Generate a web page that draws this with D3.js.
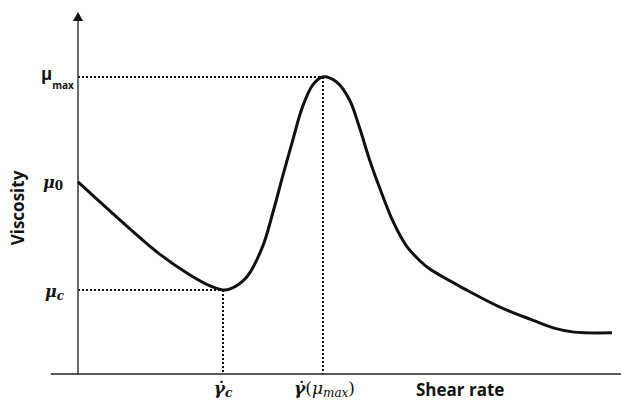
<!DOCTYPE html>
<html>
<head>
<meta charset="utf-8">
<script src="https://cdn.jsdelivr.net/npm/d3@7"></script>
<style>
  body { margin: 0; background: #fff; }
  text { fill: #111; }
</style>
</head>
<body>
<div id="chart"></div>
<script>
  // shear rate (arbitrary units) and viscosity
  var shearRate = [0, 4.1, 9.6, 15.1, 20.7, 24.4, 26.8, 28.0, 31.2, 34.1, 36.0, 37.8, 39.7, 41.5, 43.4, 45.2,
                   47.8, 50.2, 52.0, 53.9, 55.7, 58.1, 60.7, 62.9, 64.9, 71.8, 77.9, 83.9, 88.0, 91.7, 98.7];
  var viscosity = [53.2, 47.6, 40.2, 33.2, 27.4, 24.4, 23.3, 23.5, 26.9, 35.2, 44.6, 54.6, 64.8, 74.0, 80.1, 82.3,
                   80.9, 75.9, 68.4, 59.3, 51.8, 42.7, 35.5, 31.8, 29.2, 23.3, 18.6, 15.0, 12.7, 11.6, 11.4];

  var mu0 = 53.2, muC = 23.3, muMax = 82.3;
  var gammaC = 26.8, gammaMax = 45.2;

  var width = 621, height = 400;
  var margin = { top: 13, right: 1, bottom: 26, left: 78 };

  var svg = d3.select('#chart')
    .append('svg')
    .attr('width', width)
    .attr('height', height);

  var x = d3.scaleLinear()
    .domain([0, 100])
    .range([margin.left, width - margin.right - 1]);

  var y = d3.scaleLinear()
    .domain([0, 100])
    .range([height - margin.bottom, margin.top]);

  var data = shearRate.map(function(d, i) { return { x: d, y: viscosity[i] }; });

  // dotted guide lines
  var guides = [
    [x(0), y(muMax), x(gammaMax), y(muMax)],
    [x(gammaMax), y(muMax), x(gammaMax), y(0)],
    [x(0), y(muC), x(gammaC), y(muC)],
    [x(gammaC), y(muC), x(gammaC), y(0)]
  ];
  svg.selectAll('.guide')
    .data(guides)
    .enter().append('line')
    .attr('class', 'guide')
    .attr('x1', function(d) { return Math.round(d[0]); })
    .attr('y1', function(d) { return Math.round(d[1]); })
    .attr('x2', function(d) { return Math.round(d[2]); })
    .attr('y2', function(d) { return Math.round(d[3]); })
    .attr('stroke', '#111')
    .attr('stroke-width', 2)
    .attr('stroke-dasharray', '2,2');

  // axes
  svg.append('line')
    .attr('x1', x(0)).attr('x2', x(0))
    .attr('y1', y(0)).attr('y2', y(100) + 8)
    .attr('stroke', '#444').attr('stroke-width', 1.6);
  svg.append('path')
    .attr('d', d3.symbol().type(d3.symbolTriangle).size(45))
    .attr('transform', 'translate(' + x(0) + ',' + (y(100) + 5) + ')')
    .attr('fill', '#111');

  svg.append('line')
    .attr('x1', x(-5)).attr('x2', width)
    .attr('y1', y(0)).attr('y2', y(0))
    .attr('stroke', '#222').attr('stroke-width', 1.6);

  // curve
  var line = d3.line()
    .x(function(d) { return x(d.x); })
    .y(function(d) { return y(d.y); })
    .curve(d3.curveCatmullRom.alpha(0.5));

  svg.append('path')
    .datum(data)
    .attr('d', line)
    .attr('fill', 'none')
    .attr('stroke', '#111')
    .attr('stroke-width', 3);

  // y labels
  var muMaxLabel = svg.append('text')
    .attr('x', x(0) - 37)
    .attr('y', y(muMax) + 3)
    .style('font-family', 'Open Sans, sans-serif')
    .style('font-weight', 'bold');
  muMaxLabel.append('tspan').style('font-size', '17px').text('μ');
  muMaxLabel.append('tspan').attr('dy', 9).style('font-size', '10px').text('max');

  var serif = 'DejaVu Serif, Liberation Serif, serif';

  var mu0Label = svg.append('text')
    .attr('x', x(0) - 15)
    .attr('y', y(mu0) + 6)
    .attr('text-anchor', 'end')
    .style('font-family', serif)
    .style('font-style', 'italic')
    .style('font-weight', 'bold')
    .style('font-size', '16px');
  mu0Label.append('tspan').text('μ');
  mu0Label.append('tspan').attr('dy', 2).style('font-size', '12px').style('font-style', 'normal').text('0');

  var muCLabel = svg.append('text')
    .attr('x', x(0) - 14)
    .attr('y', y(muC) + 7)
    .attr('text-anchor', 'end')
    .style('font-family', serif)
    .style('font-style', 'italic')
    .style('font-weight', 'bold')
    .style('font-size', '16px');
  muCLabel.append('tspan').text('μ');
  muCLabel.append('tspan').attr('dy', 3).style('font-size', '12px').text('c');

  // x labels
  var gcLabel = svg.append('text')
    .attr('x', x(gammaC))
    .attr('y', y(0) + 20)
    .attr('text-anchor', 'middle')
    .style('font-family', serif)
    .style('font-style', 'italic')
    .style('font-weight', 'bold')
    .style('font-size', '17px');
  gcLabel.append('tspan').text('γ\u0307');
  gcLabel.append('tspan').attr('dy', 3).style('font-size', '12px').text('c');

  var gmLabel = svg.append('text')
    .attr('x', x(gammaMax) + 2)
    .attr('y', y(0) + 20)
    .attr('text-anchor', 'middle')
    .style('font-family', serif)
    .style('font-style', 'italic')
    .style('font-size', '17px');
  gmLabel.append('tspan').style('font-weight', 'bold').text('γ\u0307');
  gmLabel.append('tspan').style('font-style', 'normal').text('(');
  gmLabel.append('tspan').text('μ');
  gmLabel.append('tspan').attr('dy', 3).style('font-size', '12px').text('max');
  gmLabel.append('tspan').attr('dy', -3).style('font-style', 'normal').text(')');

  svg.append('text')
    .attr('x', 416)
    .attr('y', y(0) + 22)
    .style('font-family', 'Open Sans, sans-serif')
    .style('font-weight', 'bold')
    .style('font-size', '17px')
    .text('Shear rate');

  svg.append('text')
    .attr('transform', 'translate(24,' + 208 + ') rotate(-90)')
    .attr('text-anchor', 'middle')
    .style('font-family', 'Open Sans, sans-serif')
    .style('font-weight', 'bold')
    .style('font-size', '17px')
    .text('Viscosity');
</script>
</body>
</html>
